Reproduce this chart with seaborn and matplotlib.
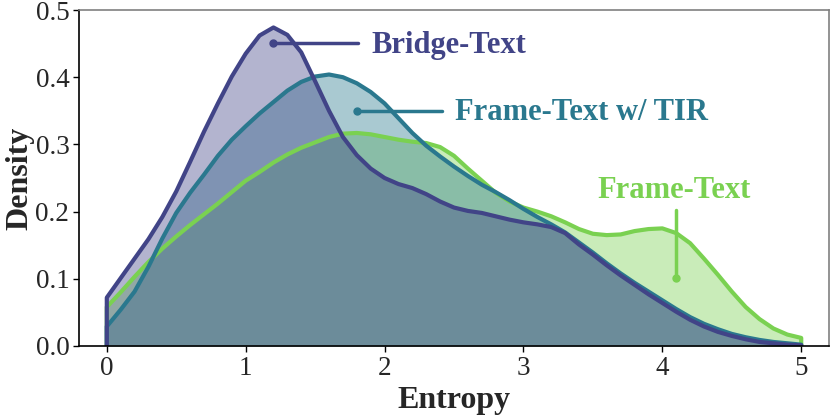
import matplotlib
matplotlib.use('Agg')
import matplotlib.pyplot as plt
import seaborn as sns
import numpy as np
import pandas as pd

# Entropy grid and density values
entropy = [0.0, 0.1, 0.2, 0.3, 0.4, 0.5, 0.6, 0.7, 0.8, 0.9,
           1.0, 1.1, 1.2, 1.3, 1.4, 1.5, 1.6, 1.7, 1.8, 1.9,
           2.0, 2.1, 2.2, 2.3, 2.4, 2.5, 2.6, 2.7, 2.8, 2.9,
           3.0, 3.1, 3.2, 3.3, 3.4, 3.5, 3.6, 3.7, 3.8, 3.9,
           4.0, 4.1, 4.2, 4.3, 4.4, 4.5, 4.6, 4.7, 4.8, 4.9, 5.0]

bridge_text = [0.072, 0.101, 0.130, 0.159, 0.192, 0.230, 0.274, 0.319, 0.361, 0.401,
               0.435, 0.462, 0.474, 0.463, 0.437, 0.394, 0.350, 0.311, 0.284, 0.264,
               0.250, 0.241, 0.235, 0.226, 0.215, 0.206, 0.201, 0.198, 0.193, 0.188,
               0.184, 0.181, 0.177, 0.168, 0.151, 0.136, 0.120, 0.105, 0.091, 0.077,
               0.064, 0.051, 0.039, 0.029, 0.021, 0.015, 0.010, 0.006, 0.004, 0.002, 0.001]

frame_text_tir = [0.029, 0.054, 0.081, 0.118, 0.160, 0.198, 0.228, 0.255, 0.283, 0.307,
                  0.327, 0.346, 0.363, 0.380, 0.393, 0.401, 0.404, 0.400, 0.391, 0.378,
                  0.361, 0.339, 0.317, 0.298, 0.282, 0.267, 0.253, 0.240, 0.229, 0.217,
                  0.204, 0.192, 0.181, 0.169, 0.154, 0.139, 0.123, 0.108, 0.094, 0.081,
                  0.068, 0.055, 0.043, 0.033, 0.025, 0.018, 0.013, 0.009, 0.006, 0.004, 0.002]

frame_text = [0.058, 0.080, 0.103, 0.125, 0.145, 0.163, 0.180, 0.196, 0.212, 0.229,
              0.246, 0.259, 0.273, 0.285, 0.295, 0.303, 0.311, 0.316, 0.317, 0.315,
              0.311, 0.307, 0.304, 0.302, 0.296, 0.283, 0.264, 0.246, 0.228, 0.215,
              0.206, 0.200, 0.193, 0.184, 0.174, 0.167, 0.165, 0.166, 0.171, 0.174,
              0.175, 0.168, 0.153, 0.130, 0.106, 0.081, 0.058, 0.040, 0.026, 0.017, 0.012]

series_names = ['Frame-Text', 'Frame-Text w/ TIR', 'Bridge-Text']
series_values = [frame_text, frame_text_tir, bridge_text]
series_colors = ['#7AD151', '#2A788E', '#414487']

x_ticks = [0, 1, 2, 3, 4, 5]
y_ticks = [0.0, 0.1, 0.2, 0.3, 0.4, 0.5]

sns.set_theme(style='ticks')
plt.rcParams['font.family'] = ['Liberation Serif', 'DejaVu Serif']

fig = plt.figure(figsize=(8.3, 4.15), dpi=100)
ax = fig.add_axes([0.0952, 0.1663, 0.9036, 0.8096])

# fills first, outlines afterwards (outlines stay un-tinted)
for name, vals, color in zip(series_names, series_values, series_colors):
    ax.fill_between(entropy, 0, vals, facecolor=color, alpha=0.4, linewidth=0)

for name, vals, color in zip(series_names, series_values, series_colors):
    outline = pd.DataFrame({
        'x': [entropy[0]] + entropy + [entropy[-1]],
        'y': [0.0] + vals + [0.0],
    })
    sns.lineplot(data=outline, x='x', y='y', sort=False, estimator=None,
                 color=color, lw=3, ax=ax, solid_joinstyle='round',
                 solid_capstyle='round')

# annotations: dot + leader line + label
ax.plot([1.2, 1.807], [0.4505, 0.4505], color=series_colors[2], lw=2.5,
        marker='o', markersize=5, markevery=[0])
ax.text(1.908, 0.4365, 'Bridge-Text', color=series_colors[2], fontsize=22,
        fontweight='bold', ha='left', va='baseline')

ax.plot([1.80, 2.415], [0.350, 0.350], color=series_colors[1], lw=2.5,
        marker='o', markersize=5, markevery=[0])
ax.text(2.504, 0.336, 'Frame-Text w/ TIR', color=series_colors[1], fontsize=22,
        fontweight='bold', ha='left', va='baseline')

ax.plot([4.10, 4.10], [0.1007, 0.2024], color=series_colors[0], lw=2.5,
        marker='o', markersize=5, markevery=[0])
ax.text(4.083, 0.2197, 'Frame-Text', color=series_colors[0], fontsize=22,
        fontweight='bold', ha='center', va='baseline')

ax.set_xlim(-0.2, 5.2)
ax.set_ylim(0, 0.5)
ax.set_xticks(x_ticks)
ax.set_yticks(y_ticks)
ax.set_xticklabels([str(t) for t in x_ticks])
ax.set_yticklabels([f'{t:.1f}' for t in y_ticks])
ax.tick_params(axis='both', labelsize=19.5, length=4, width=1, color='black',
               direction='out', pad=3)
ax.set_xlabel('Entropy', fontsize=23, fontweight='bold', labelpad=4)
ax.set_ylabel('Density', fontsize=23, fontweight='bold', labelpad=1)

for side in ['left', 'bottom']:
    ax.spines[side].set_color('black')
    ax.spines[side].set_linewidth(1.2)
for side in ['top', 'right']:
    ax.spines[side].set_color('#808080')
    ax.spines[side].set_linewidth(1.2)

fig.savefig('out.png', dpi=100)
plt.close(fig)
